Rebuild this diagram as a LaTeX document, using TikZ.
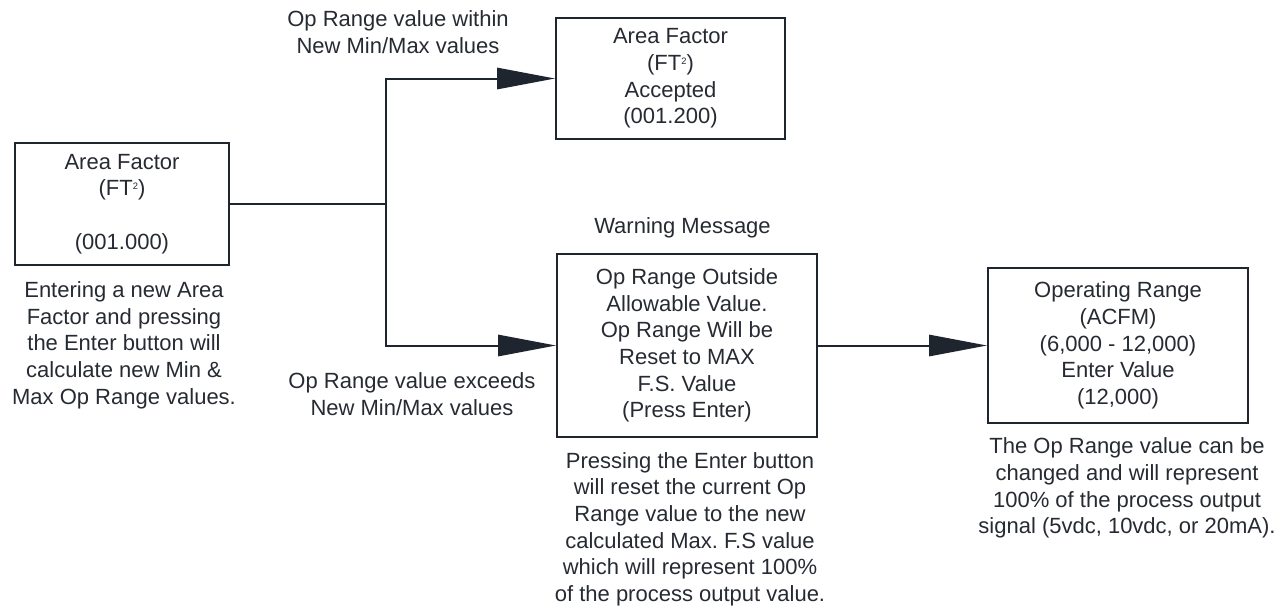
\documentclass[tikz,border=0pt]{standalone}
\usepackage{fontspec}
\setmainfont{Liberation Sans}
\usetikzlibrary{arrows.meta}
\definecolor{ink}{RGB}{30,37,46}
\definecolor{txt}{RGB}{38,42,50}
\newcommand{\ftsq}{FT\raisebox{0.55ex}{\fontsize{7}{7}\selectfont 2}}
\tikzset{
  base/.style={font=\fontsize{16.5}{20}\selectfont\frenchspacing, text=txt, align=center, inner sep=0pt},
  box/.style={base, draw=ink, line width=1.5pt},
  lbl/.style={base},
  link/.style={draw=ink, line width=1.5pt},
  arr/.style={link, -{Triangle[length=43.5pt, width=16pt]}}
}
\begin{document}
\begin{tikzpicture}[x=0.75pt, y=-0.75pt]
  \useasboundingbox (0,0) rectangle (1288,608);

  % boxes
  \node[box, minimum width=214*0.75pt, minimum height=122*0.75pt] (b1) at (122,204)
    {Area Factor\\(\ftsq)\\\strut\\(001.000)};
  \node[box, minimum width=229*0.75pt, minimum height=121*0.75pt] (b2) at (670.5,78.5)
    {Area Factor\\(\ftsq)\\Accepted\\(001.200)};
  \node[box, minimum width=260*0.75pt, minimum height=183*0.75pt] (b3) at (687,345.5)
    {Op Range Outside\\Allowable Value.\\Op Range Will be\\Reset to MAX\\F.S. Value\\(Press Enter)};
  \node[box, minimum width=260*0.75pt, minimum height=155*0.75pt] (b4) at (1118,345.5)
    {Operating Range\\(ACFM)\\(6,000 - 12,000)\\Enter Value\\(12,000)};

  % captions and labels
  \node[lbl] (c1) at (124,345)
    {Entering a new Area\\Factor and pressing\\the Enter button will\\calculate new Min \&\\Max Op Range values.};
  \node[lbl] (c3) at (690,529)
    {Pressing the Enter button\\will reset the current Op\\Range value to the new\\calculated Max. F.S value\\which will represent 100\%\\of the process output value.};
  \node[lbl] (c4) at (1127,488)
    {The Op Range value can be\\changed and will represent\\100\% of the process output\\signal (5vdc, 10vdc, or 20mA).};
  \node[lbl] (lw) at (682.5,228) {Warning Message};
  \node[lbl] (lt) at (398,32) {Op Range value within\\New Min/Max values};
  \node[lbl] (lb) at (412,394) {Op Range value exceeds\\New Min/Max values};

  % connectors
  \coordinate (j) at (386,204);
  \draw[link] (b1.east) -- (j);
  \draw[arr] (j) |- (b2.west);
  \draw[arr] (j) |- (b3.west);
  \draw[arr] (b3.east) -- (b4.west);
\end{tikzpicture}
\end{document}
